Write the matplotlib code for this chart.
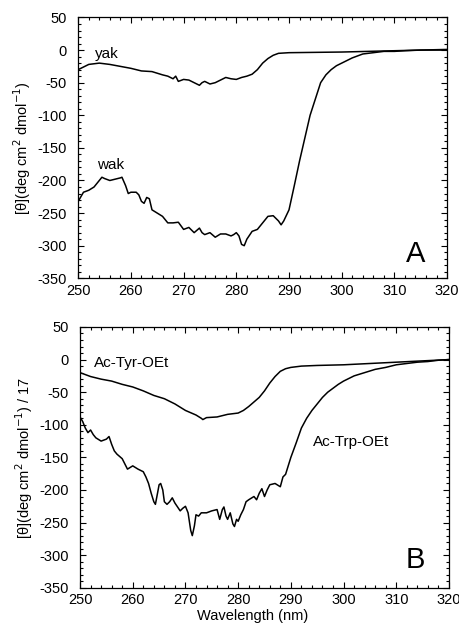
import matplotlib.pyplot as plt
from matplotlib.ticker import MultipleLocator

plt.rcParams['font.family'] = ['Liberation Sans', 'DejaVu Sans']
plt.rcParams['axes.unicode_minus'] = False

# panel A: yak and wak
yak_x = [250, 252, 254, 256, 258, 260, 262, 264, 266, 267, 268, 268.5, 269, 270, 271,
         272, 273, 273.5, 274, 275, 276, 277, 278, 279, 280, 281, 282, 283, 284, 285,
         286, 287, 288, 290, 295, 300, 305, 310, 315, 320]
yak_y = [-30, -22, -20, -22, -25, -28, -32, -33, -38, -40, -44, -40, -48, -45, -46,
         -50, -54, -50, -48, -52, -50, -46, -42, -44, -45, -42, -40, -37, -30, -20,
         -13, -8, -5, -4, -3.5, -3, -2, -1, 0, 1]

wak_x = [250, 251, 252, 253, 254, 254.5, 255, 256, 257, 258, 258.3, 259, 259.5, 260,
         261, 261.5, 262, 262.5, 263, 263.5, 264, 265, 266, 267, 268, 269, 270, 271,
         272, 273, 273.5, 274, 275, 276, 277, 278, 279, 279.5, 280, 280.5, 281, 281.5,
         282, 283, 284, 285, 286, 287, 288, 288.5, 289, 290, 291, 292, 293, 294, 295,
         296, 297, 298, 299, 300, 302, 304, 306, 308, 310, 312, 315, 320]
wak_y = [-232, -218, -215, -210, -200, -195, -197, -200, -198, -196, -195, -208, -220,
         -218, -218, -222, -232, -235, -226, -228, -245, -250, -255, -265, -265, -264,
         -275, -272, -280, -273, -280, -283, -280, -287, -282, -282, -285, -283, -280,
         -285, -298, -300, -290, -278, -275, -265, -255, -254, -262, -268, -262, -245,
         -208, -170, -135, -100, -75, -50, -38, -30, -24, -20, -12, -6, -4, -2, -2, -1,
         0, 0]

# panel B: Ac-Tyr-OEt and Ac-Trp-OEt
tyr_x = [250, 252, 254, 256, 258, 260, 262, 264, 266, 268, 270, 272, 273, 273.3, 274,
         276, 278, 280, 281, 282, 283, 284, 285, 286, 287, 288, 289, 290, 292, 295,
         300, 305, 310, 315, 320]
tyr_y = [-20, -26, -30, -33, -38, -42, -48, -55, -60, -68, -78, -85, -90, -92, -89,
         -88, -84, -82, -78, -72, -65, -58, -48, -36, -26, -18, -14, -12, -10, -9,
         -8, -6, -4, -2, 0]

trp_x = [250, 250.5, 251, 251.5, 252, 252.5, 253, 254, 255, 255.5, 256, 256.5, 257,
         258, 258.5, 259, 260, 261, 262, 262.5, 263, 263.5, 264, 264.3, 264.7, 265,
         265.3, 265.7, 266, 266.5, 267, 267.5, 268, 269, 269.5, 270, 270.5, 271, 271.3,
         271.7, 272, 272.5, 273, 274, 275, 276, 276.5, 277, 277.3, 277.7, 278, 278.5,
         279, 279.3, 279.7, 280, 280.5, 281, 281.5, 282, 283, 283.5, 284, 284.5, 285,
         285.5, 286, 287, 288, 288.5, 289, 290, 291, 292, 293, 294, 295, 296, 297, 298,
         299, 300, 302, 304, 306, 308, 310, 312, 314, 316, 318, 320]
trp_y = [-88, -95, -105, -112, -108, -115, -120, -125, -122, -118, -130, -140, -145,
         -152, -160, -168, -163, -168, -172, -180, -190, -205, -218, -222, -205, -192,
         -190, -200, -218, -222, -218, -212, -220, -232, -228, -225, -235, -262, -270,
         -255, -238, -240, -235, -235, -232, -230, -245, -230, -226, -240, -245, -235,
         -252, -256, -245, -248, -238, -230, -218, -215, -210, -215, -205, -198, -210,
         -200, -192, -190, -195, -180, -176, -150, -128, -105, -90, -78, -68, -58, -50,
         -44, -38, -33, -25, -20, -15, -12, -8, -6, -4, -3, -1, 0]

fs = 10.5

fig = plt.figure(figsize=(4.6, 6.24), dpi=100)
ax1 = fig.add_axes([0.170, 0.554, 0.802, 0.418])
ax2 = fig.add_axes([0.174, 0.058, 0.802, 0.418])

ax1.plot(yak_x, yak_y, color='black', lw=1.1)
ax1.plot(wak_x, wak_y, color='black', lw=1.1)
ax1.text(253.2, -6, 'yak', fontsize=11, va='center')
ax1.text(253.5, -177, 'wak', fontsize=11, va='center')
ax1.text(312.2, -313, 'A', fontsize=21, va='center')
ax1.set_ylabel('[θ](deg cm$^2$ dmol$^{-1}$)', fontsize=fs, labelpad=3)

ax2.plot(tyr_x, tyr_y, color='black', lw=1.1)
ax2.plot(trp_x, trp_y, color='black', lw=1.1)
ax2.text(252.6, -6, 'Ac-Tyr-OEt', fontsize=11, va='center')
ax2.text(294.2, -126, 'Ac-Trp-OEt', fontsize=11, va='center')
ax2.text(311.7, -307, 'B', fontsize=21, va='center')
ax2.set_ylabel('[θ](deg cm$^2$ dmol$^{-1}$) / 17', fontsize=fs, labelpad=3)
fig.text(253 / 460, 1 - 609 / 624, 'Wavelength (nm)', fontsize=fs,
         ha='center', va='top')

for ax in (ax1, ax2):
    ax.set_xlim(250, 320)
    ax.set_ylim(-350, 50)
    ax.xaxis.set_major_locator(MultipleLocator(10))
    ax.xaxis.set_minor_locator(MultipleLocator(2))
    ax.yaxis.set_major_locator(MultipleLocator(50))
    ax.yaxis.set_minor_locator(MultipleLocator(10))
    ax.tick_params(which='both', direction='in', top=True, right=True,
                   labelsize=fs, width=0.8)
    ax.tick_params(which='major', length=4)
    ax.tick_params(which='minor', length=2)
    ax.tick_params(axis='x', which='major', pad=4)
    ax.tick_params(axis='y', which='major', pad=8)
    for s in ax.spines.values():
        s.set_linewidth(0.9)

fig.savefig('out.png', dpi=100)
